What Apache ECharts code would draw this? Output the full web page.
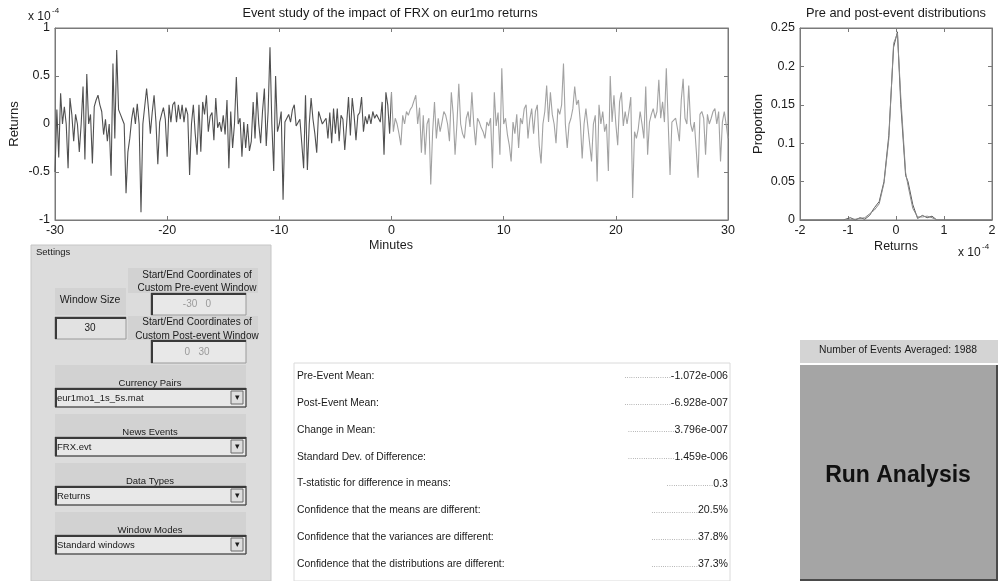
<!DOCTYPE html>
<html>
<head>
<meta charset="UTF-8">
<title>Event study of the impact of FRX on eur1mo returns</title>
<script src="https://cdn.jsdelivr.net/npm/echarts@6/dist/echarts.min.js"></script>
<style>
    html, body { margin: 0; padding: 0; background: #fff; }
    #main { width: 1003px; height: 581px; }
</style>
</head>
<body>
<div id="main"></div>
<script type="text/javascript">
// returns in units of 1e-4, one value every 10 seconds
var stepMinutes = 1 / 6;
var preReturns = [
    -0.5, 0.15, -0.35, 0.32, 0.0, 0.18,
    0.0, -0.46, 0.27, 0.1, -0.18, 0.1,
    0.0, -0.29, 0.0, 0.39, -0.37, 0.52,
    0.0, 0.1, -0.41, 0.18, 0.25, 0.3,
    0.2, 0.13, -0.11, 0.05, -0.18, 0.0,
    -0.54, 0.63, -0.15, 0.77, 0.15, 0.1,
    0.05, 0.0, -0.72, -0.29, -0.15, 0.05,
    0.17, 0.0, 0.21, 0.0, -0.92, 0.0,
    0.0, 0.37, 0.16, -0.1, 0.12, 0.3,
    0.02, -0.42, 0.02, 0.1, 0.17, 0.05,
    -0.34, 0.2, 0.02, 0.2, 0.23, 0.02,
    0.2, 0.05, 0.2, 0.02, 0.17, 0.1,
    -0.53, 0.0, 0.2, -0.1, -0.32, 0.2,
    -0.29, 0.23, 0.1, 0.3, -0.08, 0.08,
    0.12, -0.17, 0.27, -0.04, 0.02, -0.08,
    0.09, -0.11, 0.25, -0.46, 0.13, -0.25,
    0.0, 0.49, 0.0, 0.06, -0.34, 0.02,
    -0.25, 0.0, -0.28, -0.18, 0.23, -0.15,
    0.33, 0.0, -0.2, 0.13, 0.37, -0.23,
    0.13, 0.8, 0.0, -0.49, 0.5, -0.08,
    0.0, 0.13, -0.79, 0.02, 0.0, 0.1,
    0.02, 0.15, 0.2, -0.02, 0.0, 0.05,
    -0.2, -0.46, 0.3, -0.48, 0.0, 0.27,
    0.05, -0.1, -0.3, 0.13, 0.14, 0.0,
    0.0, 0.06, -0.15, 0.12, -0.2, 0.16,
    -0.1, 0.16, -0.18, 0.09, 0.05, -0.27,
    0.0, 0.28, -0.12, 0.27, 0.09, -0.17,
    0.09, 0.12, 0.28, -0.08, 0.08, 0.0,
    0.1, 0.0, 0.13, 0.06, 0.1, 0.09,
    0.02, 0.23, -0.32, 0.33, 0.2, -0.1,
    0.33
];
var postReturns = [
    -0.08, 0.06, 0.0, -0.1, -0.22,
    0.09, 0.0, 0.13, 0.09, 0.15, 0.18,
    0.2, 0.3, 0.0, 0.17, -0.3, 0.09,
    -0.32, 0.0, 0.06, -0.63, -0.08, 0.23,
    -0.15, 0.06, -0.08, 0.02, 0.13, 0.09,
    0.0, -0.18, 0.33, 0.1, -0.32, 0.0,
    0.42, 0.0, -0.1, -0.15, 0.06, 0.13,
    -0.03, 0.33, 0.0, -0.22, 0.06, 0.02,
    -0.04, -0.08, -0.15, 0.02, -0.02, 0.06,
    -0.46, 0.33, -0.02, 0.12, -0.32, 0.58,
    0.0, 0.06, -0.11, -0.22, -0.39, 0.02,
    -0.1, 0.1, -0.25, 0.06, 0.0, 0.16,
    0.2, -0.15, 0.05, 0.16, -0.1, 0.13,
    0.2, -0.22, -0.41, 0.0, 0.13, 0.4,
    0.02, 0.33, 0.1, 0.0, -0.2, 0.16,
    0.1, 0.2, 0.63, 0.0, -0.25, 0.0,
    0.06, 0.16, 0.39, 0.2, 0.25, 0.02,
    -0.36, 0.0, 0.16, -0.02, 0.0, -0.39,
    0.0, 0.09, -0.6, 0.2, 0.0, 0.13,
    -0.08, 0.0, -0.49, 0.5, 0.02, 0.3,
    0.0, -0.22, 0.23, 0.33, -0.02, 0.13,
    0.0, 0.13, 0.28, -0.77, -0.08, -0.15,
    -0.05, 0.13, 0.0, -0.15, 0.39, -0.32,
    0.02, 0.1, 0.16, 0.06, 0.13, 0.46,
    0.06, 0.23, 0.02, 0.58, 0.02, -0.53,
    0.02, 0.0, 0.06, -0.05, -0.18, 0.25,
    0.47, 0.06, 0.0, 0.4, 0.0, -0.08,
    0.02, 0.0, -0.56, 0.1, 0.13, 0.06,
    -0.32, 0.1, 0.0, 0.06, 0.13, 0.16,
    0.0, 0.13, -0.39, 0.02, 0.13, 0.0,
    -0.15
];

// pre / post event distributions (returns x 1e-4 -> proportion)
var distX    = [-2, -1.1, -0.95, -0.85, -0.75, -0.65, -0.55, -0.45, -0.35, -0.25, -0.15, -0.05, 0.03, 0.1, 0.2, 0.25, 0.35, 0.45, 0.55, 0.65, 0.75, 0.85, 2];
var distPre  = [0, 0, 0.003, 0, 0.003, 0.001, 0.006, 0.016, 0.024, 0.05, 0.11, 0.225, 0.245, 0.15, 0.058, 0.05, 0.02, 0.002, 0.006, 0.003, 0.005, 0, 0];
var distPost = [0, 0, 0.001, 0.001, 0.002, 0.003, 0.008, 0.013, 0.021, 0.048, 0.105, 0.23, 0.243, 0.16, 0.062, 0.045, 0.015, 0.004, 0.004, 0.005, 0.003, 0, 0];

var statLabels = [
    'Pre-Event Mean:',
    'Post-Event Mean:',
    'Change in Mean:',
    'Standard Dev. of Difference:',
    'T-statistic for difference in means:',
    'Confidence that the means are different:',
    'Confidence that the variances are different:',
    'Confidence that the distributions are different:'
];
var statValues = ['-1.072e-006', '-6.928e-007', '3.796e-007', '1.459e-006', '0.3', '20.5%', '37.8%', '37.3%'];

var settingsSelects = [
    { title: 'Currency Pairs', value: 'eur1mo1_1s_5s.mat' },
    { title: 'News Events', value: 'FRX.evt' },
    { title: 'Data Types', value: 'Returns' },
    { title: 'Window Modes', value: 'Standard windows' }
];
var eventsAveraged = 1988;

var FONT = '"Liberation Sans", Arial, sans-serif';
var AXIS_COLOR = '#7a7a7a';

var preData = preReturns.map(function (v, i) { return [-30 + i * stepMinutes, v]; });
var postData = [[0, preReturns[preReturns.length - 1]]].concat(
    postReturns.map(function (v, i) { return [(i + 1) * stepMinutes, v]; })
);
var preDist = distX.map(function (x, i) { return [x, distPre[i]]; });
var postDist = distX.map(function (x, i) { return [x, distPost[i]]; });

// one axis of a matlab style box: ticks inside, labels only on bottom / left
function boxAxis(gridIndex, position, min, max, interval, labels, fmt) {
    return {
        type: 'value',
        gridIndex: gridIndex,
        position: position,
        min: min,
        max: max,
        interval: interval,
        axisLine: { show: true, onZero: false, lineStyle: { color: AXIS_COLOR, width: 1 } },
        axisTick: { show: true, inside: true, length: 4, lineStyle: { color: AXIS_COLOR } },
        axisLabel: {
            show: labels,
            color: '#1a1a1a',
            fontFamily: FONT,
            fontSize: 12.5,
            margin: position === 'bottom' ? 4 : 5,
            formatter: fmt
        },
        splitLine: { show: false }
    };
}
function fmt2(v) { return String(+v.toFixed(2)); }

// ---- graphic helpers (the gui panels) ----
var ui = [];
function rect(x, y, w, h, fill, stroke) {
    ui.push({ type: 'rect', silent: true, shape: { x: x, y: y, width: w, height: h },
        style: { fill: fill, stroke: stroke || null, lineWidth: 1 } });
}
function seg(x1, y1, x2, y2, color, w) {
    ui.push({ type: 'line', silent: true, shape: { x1: x1, y1: y1, x2: x2, y2: y2 },
        style: { stroke: color, lineWidth: w || 1 } });
}
function txt(x, y, s, size, align, color, weight, rot) {
    ui.push({ type: 'text', silent: true, x: x, y: y, rotation: rot || 0,
        style: { text: s, x: 0, y: 0, fontFamily: FONT, fontSize: size, fontWeight: weight || 'normal',
            fill: color || '#1a1a1a', align: align || 'left', textAlign: align || 'left',
            verticalAlign: 'middle', textVerticalAlign: 'middle' } });
}
function sunken(x, y, w, h, fill) {
    rect(x, y, w, h, fill, '#9a9a9a');
    seg(x, y + 1, x + w, y + 1, '#3a3a3a', 2);
    seg(x + 1, y, x + 1, y + h, '#3a3a3a', 2);
}

// axis texts
txt(390, 13, 'Event study of the impact of FRX on eur1mo returns', 12.8, 'center');
txt(28, 17, 'x 10', 12, 'left');
txt(52, 11, '-4', 8, 'left');
txt(14, 124, 'Returns', 13, 'center', null, null, Math.PI / 2);
txt(391, 246, 'Minutes', 12.5, 'center');
txt(896, 13, 'Pre and post-event distributions', 12.8, 'center');
txt(758, 124, 'Proportion', 13, 'center', null, null, Math.PI / 2);
txt(896, 247, 'Returns', 12.5, 'center');
txt(958, 253, 'x 10', 12, 'left');
txt(982, 247, '-4', 8, 'left');

// settings panel
rect(31, 245, 240, 336, '#dcdcdc', '#c6c6c6');
txt(36, 252, 'Settings', 9.5, 'left');
rect(55, 288, 71, 27, '#d2d2d2');
txt(90, 300, 'Window Size', 10.5, 'center');
sunken(55, 317, 71, 22, '#e2e2e2');
txt(90, 328, '30', 10, 'center');
rect(128, 268, 130, 25, '#d2d2d2');
txt(197, 275, 'Start/End Coordinates of', 10, 'center');
txt(197, 288, 'Custom Pre-event Window', 10, 'center');
sunken(151, 293, 95, 22, '#e8e8e8');
txt(197, 304, '-30   0', 10, 'center', '#9a9a9a');
rect(128, 316, 130, 24, '#d2d2d2');
txt(197, 322, 'Start/End Coordinates of', 10, 'center');
txt(197, 336, 'Custom Post-event Window', 10, 'center');
sunken(151, 340, 95, 23, '#e8e8e8');
txt(197, 352, '0   30', 10, 'center', '#9a9a9a');

settingsSelects.forEach(function (s, k) {
    var yb = 365 + k * 49;
    var yd = yb + 23;
    rect(55, yb, 191, 23, '#d2d2d2');
    txt(150, yb + 18, s.title, 9.5, 'center');
    sunken(55, yd, 191, 19, '#e8e8e8');
    seg(55, yd + 19, 246, yd + 19, '#3a3a3a', 1);
    seg(246, yd, 246, yd + 19, '#3a3a3a', 1);
    rect(231, yd + 3, 12, 13, '#dedede', '#6a6a6a');
    txt(237, yd + 10, '\u25BE', 9, 'center');
    txt(57, yd + 10, s.value, 9.5, 'left');
});

// statistics panel
rect(294, 363, 436, 218, '#ffffff', '#dadada');
statLabels.forEach(function (lab, k) {
    var y = 376 + k * 26.9;
    txt(297, y, lab, 10.3, 'left');
    ui.push({ type: 'text', silent: true, x: 728, y: y,
        style: { text: '{d|.....................}{v|' + statValues[k] + '}', x: 0, y: 0,
            align: 'right', textAlign: 'right', verticalAlign: 'middle', textVerticalAlign: 'middle',
            rich: {
                d: { fontFamily: FONT, fontSize: 8, fill: '#8a8a8a', color: '#8a8a8a' },
                v: { fontFamily: FONT, fontSize: 10.6, fill: '#1a1a1a', color: '#1a1a1a' }
            } } });
});

// run analysis block
rect(800, 340, 198, 23, '#d4d4d4');
txt(898, 350, 'Number of Events Averaged: ' + eventsAveraged, 10.3, 'center');
rect(800, 365, 198, 216, '#a5a5a5');
seg(997, 365, 997, 581, '#4a4a4a', 2);
seg(800, 580, 998, 580, '#4a4a4a', 2);
txt(898, 476, 'Run Analysis', 23, 'center', '#111111', 'bold');

var myChart = echarts.init(document.getElementById('main'));
var option = {
    animation: false,
    backgroundColor: '#ffffff',
    grid: [
        { left: 55, top: 28, width: 673, height: 192, show: true, borderColor: AXIS_COLOR, backgroundColor: '#fff' },
        { left: 800, top: 28, width: 192, height: 192, show: true, borderColor: AXIS_COLOR, backgroundColor: '#fff' }
    ],
    xAxis: [
        boxAxis(0, 'bottom', -30, 30, 10, true),
        boxAxis(0, 'top', -30, 30, 10, false),
        boxAxis(1, 'bottom', -2, 2, 1, true),
        boxAxis(1, 'top', -2, 2, 1, false)
    ],
    yAxis: [
        boxAxis(0, 'left', -1, 1, 0.5, true),
        boxAxis(0, 'right', -1, 1, 0.5, false),
        boxAxis(1, 'left', 0, 0.25, 0.05, true, fmt2),
        boxAxis(1, 'right', 0, 0.25, 0.05, false)
    ],
    series: [
        {
            name: 'pre-event', type: 'line', xAxisIndex: 0, yAxisIndex: 0,
            data: preData, showSymbol: false, lineStyle: { color: '#505050', width: 1.1 }
        },
        {
            name: 'post-event', type: 'line', xAxisIndex: 0, yAxisIndex: 0,
            data: postData, showSymbol: false, lineStyle: { color: '#a2a2a2', width: 1.1 }
        },
        {
            name: 'pre dist', type: 'line', xAxisIndex: 2, yAxisIndex: 2,
            data: preDist, showSymbol: false, lineStyle: { color: '#5a5a5a', width: 1 }
        },
        {
            name: 'post dist', type: 'line', xAxisIndex: 2, yAxisIndex: 2,
            data: postDist, showSymbol: false, lineStyle: { color: '#8a8a8a', width: 1 }
        }
    ],
    graphic: { elements: ui }
};
myChart.setOption(option);
</script>
</body>
</html>
